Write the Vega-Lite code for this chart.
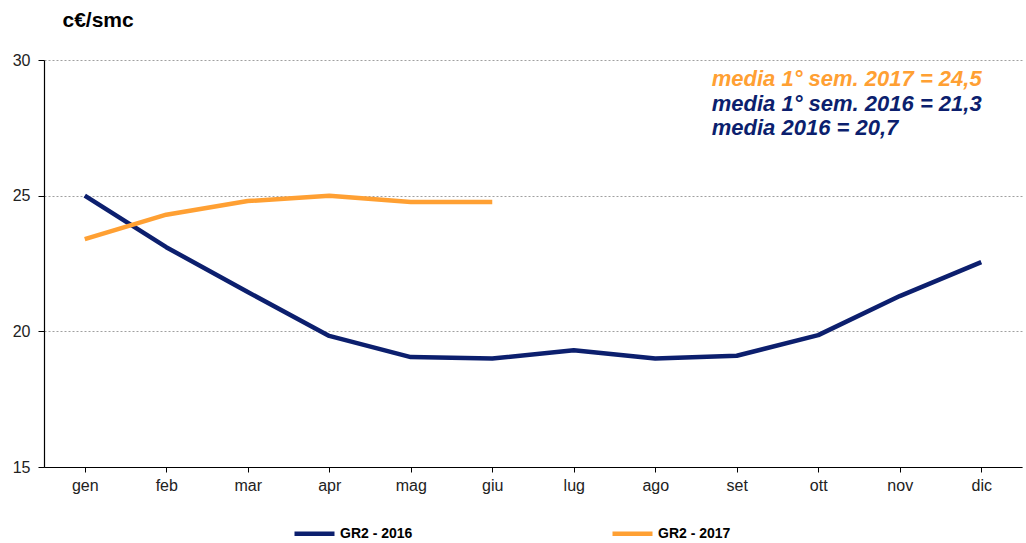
{
  "$schema": "https://vega.github.io/schema/vega-lite/v6.json",
  "autosize": {"type": "none"},
  "width": 978,
  "height": 407,
  "padding": {"left": 44, "top": 60, "right": 4, "bottom": 76},
  "background": "white",
  "config": {
    "view": {"stroke": null},
    "font": "Liberation Sans"
  },
  "datasets": {
    "series": [
      {"mese": "gen", "serie": "GR2 - 2016", "valore": 25.0},
      {"mese": "feb", "serie": "GR2 - 2016", "valore": 23.1},
      {"mese": "mar", "serie": "GR2 - 2016", "valore": 21.45},
      {"mese": "apr", "serie": "GR2 - 2016", "valore": 19.83},
      {"mese": "mag", "serie": "GR2 - 2016", "valore": 19.05},
      {"mese": "giu", "serie": "GR2 - 2016", "valore": 19.0},
      {"mese": "lug", "serie": "GR2 - 2016", "valore": 19.3},
      {"mese": "ago", "serie": "GR2 - 2016", "valore": 19.0},
      {"mese": "set", "serie": "GR2 - 2016", "valore": 19.1},
      {"mese": "ott", "serie": "GR2 - 2016", "valore": 19.86},
      {"mese": "nov", "serie": "GR2 - 2016", "valore": 21.3},
      {"mese": "dic", "serie": "GR2 - 2016", "valore": 22.55},
      {"mese": "gen", "serie": "GR2 - 2017", "valore": 23.4},
      {"mese": "feb", "serie": "GR2 - 2017", "valore": 24.3},
      {"mese": "mar", "serie": "GR2 - 2017", "valore": 24.8},
      {"mese": "apr", "serie": "GR2 - 2017", "valore": 25.0},
      {"mese": "mag", "serie": "GR2 - 2017", "valore": 24.77},
      {"mese": "giu", "serie": "GR2 - 2017", "valore": 24.77}
    ],
    "note": [
      {"mese": "set", "valore": 29.3, "testo": "media 1° sem. 2017 = 24,5", "serie": "GR2 - 2017"},
      {"mese": "set", "valore": 28.38, "testo": "media 1° sem. 2016 = 21,3", "serie": "GR2 - 2016"},
      {"mese": "set", "valore": 27.49, "testo": "media 2016 = 20,7", "serie": "GR2 - 2016"}
    ]
  },
  "layer": [
    {
      "data": {"name": "series"},
      "mark": {"type": "line", "strokeWidth": 4.5, "strokeCap": "butt", "strokeJoin": "round"},
      "encoding": {
        "x": {
          "field": "mese", "type": "nominal",
          "sort": ["gen","feb","mar","apr","mag","giu","lug","ago","set","ott","nov","dic"],
          "scale": {"paddingInner": 0, "paddingOuter": 0},
          "axis": {
            "title": null, "labelAngle": 0, "bandPosition": 0,
            "domainColor": "#000000", "domainWidth": 1.2,
            "tickColor": "#000000", "tickSize": 5,
            "labelFont": "Liberation Sans", "labelFontSize": 16, "labelColor": "#222222",
            "labelPadding": 5, "grid": false
          }
        },
        "y": {
          "field": "valore", "type": "quantitative",
          "scale": {"domain": [15, 30], "nice": false, "zero": false},
          "axis": {
            "values": [15, 20, 25, 30],
            "title": "c€/smc", "titleAngle": 0, "titleX": 18, "titleY": -40,
            "titleAlign": "left", "titleBaseline": "middle",
            "titleFont": "Liberation Sans", "titleFontSize": 21, "titleFontWeight": "bold", "titleColor": "#000000",
            "domainColor": "#000000", "domainWidth": 1.2,
            "tickColor": "#000000", "tickSize": 6,
            "labelFont": "Liberation Sans", "labelFontSize": 16, "labelColor": "#222222", "labelPadding": 8,
            "grid": true, "gridColor": "#888888", "gridDash": [2, 2], "gridWidth": 0.8
          }
        },
        "color": {
          "field": "serie", "type": "nominal",
          "scale": {"domain": ["GR2 - 2016", "GR2 - 2017"], "range": ["#0C1F6E", "#FFA033"]},
          "legend": {
            "title": null, "orient": "none", "direction": "horizontal",
            "legendX": 248, "legendY": 451,
            "symbolType": "stroke", "symbolSize": 1600, "symbolStrokeWidth": 4.5,
            "labelFont": "Liberation Sans", "labelFontSize": 14, "labelFontWeight": "bold", "labelColor": "#000000",
            "labelOffset": 3, "columnPadding": 190
          }
        }
      }
    },
    {
      "data": {"name": "note"},
      "mark": {"type": "text", "align": "left", "baseline": "middle", "dx": -25,
               "font": "Liberation Sans", "fontSize": 22, "fontWeight": "bold", "fontStyle": "italic"},
      "encoding": {
        "x": {"field": "mese", "type": "nominal",
              "sort": ["gen","feb","mar","apr","mag","giu","lug","ago","set","ott","nov","dic"]},
        "y": {"field": "valore", "type": "quantitative"},
        "text": {"field": "testo"},
        "color": {"field": "serie", "type": "nominal", "legend": null}
      }
    }
  ]
}
